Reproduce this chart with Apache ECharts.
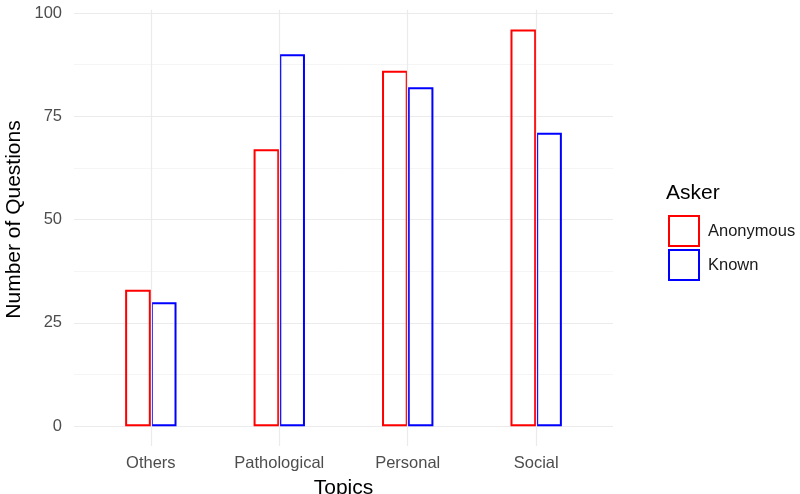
<!DOCTYPE html>
<html>
<head>
<meta charset="utf-8">
<script src="https://cdn.jsdelivr.net/npm/echarts@6/dist/echarts.min.js"></script>
<style>html,body{margin:0;padding:0;background:#fff}#c{width:800px;height:494px}</style>
</head>
<body>
<div id="c"></div>
<script>
const categories = ["Others", "Pathological", "Personal", "Social"];
const anonymous = [33, 67, 86, 96];
const known = [30, 90, 82, 71];
const yTicks = [0, 25, 50, 75, 100];
const seriesNames = ["Anonymous", "Known"];

const chart = echarts.init(document.getElementById('c'), null, {renderer: 'canvas'});
const font = '"Liberation Sans", Arial, Helvetica, sans-serif';
const option = {
  animation: false,
  backgroundColor: '#ffffff',
  title: {
    text: 'Asker', left: 661, top: 178,
    textStyle: {fontFamily: font, fontSize: 21, fontWeight: 'normal', color: '#000'}
  },
  legend: {
    orient: 'vertical', left: 663, top: 210,
    itemWidth: 30, itemHeight: 30, itemGap: 2, icon: 'rect',
    data: seriesNames,
    textStyle: {fontFamily: font, fontSize: 16.5, color: '#1a1a1a', padding: [0, 0, 0, 4]}
  },
  grid: [
    {left: 86.6, right: 199.6, top: 9.7, bottom: 48, outerBoundsMode: 'none', containLabel: false},
    {left: 74, right: 187, top: 13, bottom: 68, outerBoundsMode: 'none', containLabel: false}
  ],
  xAxis: [
    {
      gridIndex: 0, type: 'category', data: categories,
      axisLine: {show: false}, axisTick: {show: false},
      splitLine: {show: false},
      axisLabel: {fontFamily: font, fontSize: 16.5, color: '#4d4d4d', margin: 9},
      name: 'Topics', nameLocation: 'middle', nameGap: 32,
      nameTextStyle: {fontFamily: font, fontSize: 21, color: '#000'}
    },
    {gridIndex: 1, type: 'category', data: categories, show: false}
  ],
  yAxis: [
    {gridIndex: 0, type: 'value', min: -4.8, max: 100.8, show: false, splitLine: {show: false}},
    {
      gridIndex: 1, type: 'value', min: yTicks[0], max: yTicks[yTicks.length - 1], interval: 25,
      axisLine: {show: false}, axisTick: {show: false},
      axisLabel: {fontFamily: font, fontSize: 16.5, color: '#4d4d4d', margin: 12},
      splitLine: {show: true, lineStyle: {color: '#ebebeb', width: 1.2}},
      minorTick: {show: false, splitNumber: 2},
      minorSplitLine: {show: true, lineStyle: {color: '#f3f3f3', width: 0.8}},
      name: 'Number of Questions', nameLocation: 'middle', nameGap: 49, nameRotate: 90,
      nameMoveOverlap: false,
      nameTextStyle: {fontFamily: font, fontSize: 21, color: '#000'}
    }
  ],
  series: [
    {
      name: 'grid-x', type: 'line', xAxisIndex: 0, yAxisIndex: 0, data: [],
      silent: true, z: 0,
      markLine: {
        silent: true, symbol: ['none', 'none'], label: {show: false},
        lineStyle: {color: '#ebebeb', width: 1.2, type: 'solid'},
        data: categories.map(c => ({xAxis: c}))
      }
    },
    {
      name: seriesNames[0], type: 'bar', xAxisIndex: 0, yAxisIndex: 0,
      data: anonymous, barWidth: '20%', barGap: '0%',
      itemStyle: {color: 'rgba(255,255,255,0)', borderColor: '#ff0000', borderWidth: 2}
    },
    {
      name: seriesNames[1], type: 'bar', xAxisIndex: 0, yAxisIndex: 0,
      data: known, barWidth: '20%', barGap: '0%',
      itemStyle: {color: 'rgba(255,255,255,0)', borderColor: '#0000ff', borderWidth: 2}
    }
  ]
};
chart.setOption(option);
</script>
</body>
</html>
